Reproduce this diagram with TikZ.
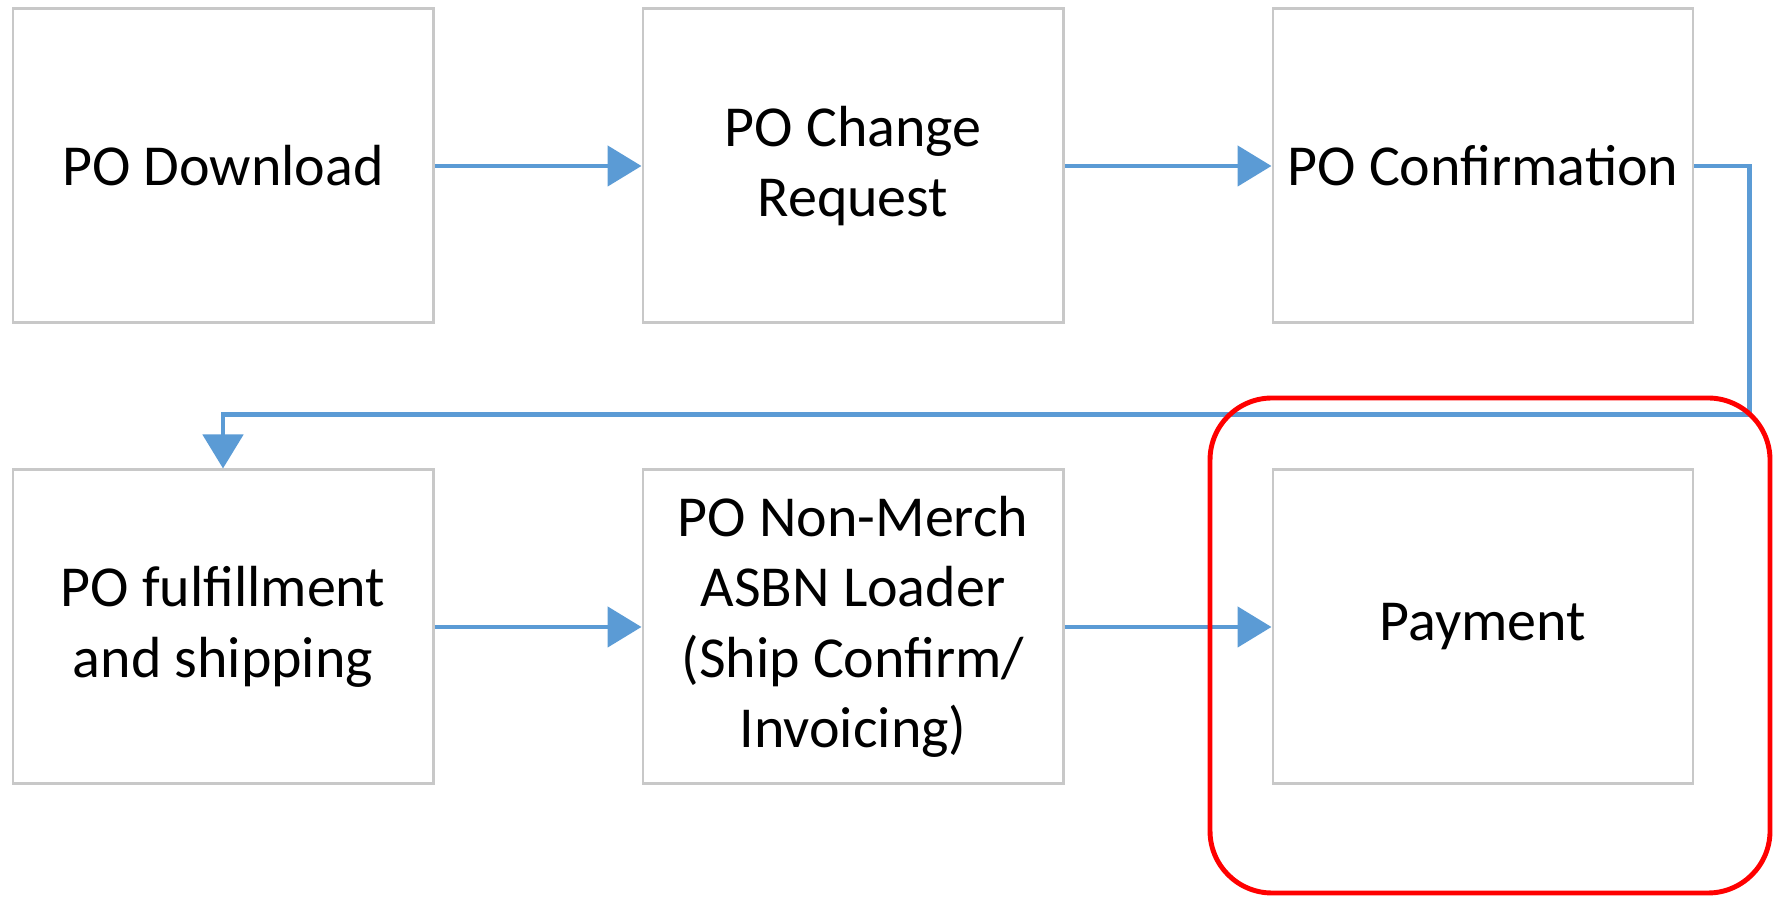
\documentclass[tikz,border=0pt]{standalone}
\usepackage{fontspec}
\setmainfont{Carlito}
\usepackage{tikz}
\usetikzlibrary{positioning}
\usetikzlibrary{arrows.meta}
\definecolor{boxgray}{RGB}{200,200,200}
\definecolor{flowblue}{RGB}{91,155,213}

\begin{document}
\begin{tikzpicture}[
mybox/.style={
rectangle,
draw=boxgray,
line width=0.85pt,
fill=white,
align=center,
text=black,
inner sep=2pt,
minimum width=4.2cm,
minimum height=3.14cm,
font=\fontsize{16.5}{20}\selectfont},
myarrow/.style={draw=flowblue, line width=1.4pt, -{Triangle[length=0.34cm,width=0.4cm]}},
node distance=1.44cm and 2.07cm
]
\useasboundingbox (0,0) rectangle (17.73,-8.99);
\node[mybox] (b1) at (2.23,-1.66) {PO Download};
      \node[mybox,right=of b1] (b2) {PO Change\\Request};
      \node[mybox,right=of b2] (b3) {PO Confirmation};
      \node[mybox,below=of b1] (b4) {PO fulfillment\\and shipping};
      \node[mybox,right=of b4] (b5) {PO Non-Merch\\ASBN Loader\\(Ship Confirm/\\Invoicing)};
      \node[mybox,right=of b5] (b6) {Payment};
      \coordinate[above=0.54cm of b4.north] (drop);
      \foreach \i/\j in {b1/b2, b2/b3, b4/b5, b5/b6}
       \draw [myarrow] (\i) -- (\j);
      \draw [myarrow] (b3.east) -- ++(0.55,0) |- (drop) -- (b4.north);
      \draw [red, line width=1.4pt, rounded corners=0.62cm] (12.10,-3.98) rectangle (17.70,-8.93);
\end{tikzpicture}
\end{document}
